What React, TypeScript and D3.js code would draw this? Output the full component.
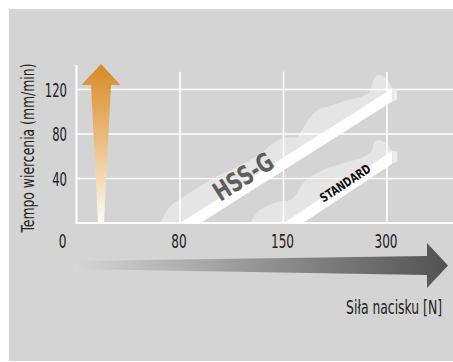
import React, { useLayoutEffect, useRef } from "react";
import * as d3 from "d3";

// ---- data ----
const forceLabels = ["0", "80", "150", "300"]; // x categories (index 0..3)
const rateTicks = [40, 80, 120];

// bands: [force index, rate] start (on baseline) and end of upper edge
const hssBand: [number, number][] = [[1, 0], [3.05, 121]];
const stdBand: [number, number][] = [[2, 0], [3.05, 65]];

// lighter "cloud" envelopes above each band
const hssGhost: [number, number][] = [
  [0.81, 0], [0.9, 14.4], [1.03, 23.4], [1.29, 38.7], [1.55, 50.3], [1.8, 63.8],
  [1.9, 71.9], [2.0, 76.4], [2.13, 77.3], [2.19, 85.4], [2.26, 95.3], [2.33, 101.6],
  [2.45, 105.2], [2.59, 109.7], [2.74, 113.3], [2.83, 117.8], [2.87, 128.5],
  [2.91, 133.0], [2.98, 131.2], [3.03, 124.9], [3.05, 121],
];
const stdGhost: [number, number][] = [
  [1.68, 0], [1.77, 11.7], [1.94, 18.9], [2.06, 20.7], [2.13, 27.0], [2.19, 36.0],
  [2.26, 41.3], [2.38, 47.6], [2.58, 53.9], [2.77, 59.3], [2.85, 64.7], [2.88, 72.8],
  [2.93, 74.6], [3.0, 71.0], [3.04, 66], [3.05, 65],
];

const W = 453;
const H = 362;
const FONT = "'Liberation Sans Narrow', 'DejaVu Sans Condensed', 'Liberation Sans', sans-serif";

type FitProps = {
  x: number;
  y: number;
  width: number;
  rotate?: number;
  anchor?: "start" | "middle" | "end";
  baseline?: string;
  size: number;
  weight?: string;
  fill: string;
  children: string;
};

// text squeezed horizontally to a measured width
function FitText({ x, y, width, rotate = 0, anchor = "start", baseline, size, weight, fill, children }: FitProps) {
  const ref = useRef<SVGTextElement>(null);
  useLayoutEffect(() => {
    const el = ref.current;
    if (!el) return;
    const len = el.getComputedTextLength();
    if (len > 0) el.setAttribute("transform", `scale(${width / len},1)`);
  });
  return (
    <g transform={`translate(${x},${y}) rotate(${rotate})`}>
      <text
        ref={ref}
        textAnchor={anchor}
        dominantBaseline={baseline}
        fontSize={size}
        fontWeight={weight}
        fill={fill}
      >
        {children}
      </text>
    </g>
  );
}

export default function App() {
  const x = d3.scaleLinear().domain([0, 3]).range([76.5, 387]);
  const y = d3.scaleLinear().domain([0, 120]).range([223, 89.5]);
  const left = x(0);
  const base = y(0);
  const T = 13; // band vertical thickness

  const ghostLine = d3
    .line<[number, number]>()
    .x((d) => x(d[0]))
    .y((d) => y(d[1]))
    .curve(d3.curveCatmullRom.alpha(0.5));

  const band = (b: [number, number][]) => {
    const x0 = x(b[0][0]), y0 = y(b[0][1]);
    const x1 = x(b[1][0]), y1 = y(b[1][1]);
    const slope = (y0 - y1) / (x1 - x0);
    const main = `M${x0},${y0}L${x1},${y1}L${x1},${y1 + T}L${x0 + T / slope},${y0}Z`;
    const face = `M${x1},${y1}L${x1 + 5},${y1 + 1}L${x1 + 5},${y1 + T - 2}L${x1},${y1 + T}Z`;
    const angle = (Math.atan2(y1 - y0, x1 - x0) * 180) / Math.PI;
    return { main, face, angle, x0, y0, slope };
  };
  const hb = band(hssBand);
  const sb = band(stdBand);

  const ghostPath = (g: [number, number][], b: [number, number][]) =>
    (ghostLine(g) || "") + `L${x(b[0][0])},${y(b[0][1])}Z`;

  // text anchor points along band upper edge
  const hssTx = x(1.62);
  const hssTy = base - hb.slope * (hssTx - hb.x0) - 4;
  const stdTx = x(2.6);
  const stdTy = base - sb.slope * (stdTx - sb.x0) + 2;

  return (
    <svg
      width={W}
      height={H}
      style={{ position: "absolute", left: 0, top: 0, display: "block" }}
      fontFamily={FONT}
    >
      <defs>
        <linearGradient id="orangeGrad" x1="0" y1="0" x2="0" y2="1">
          <stop offset="0" stopColor="#d88a28" />
          <stop offset="0.45" stopColor="#e9ba7a" />
          <stop offset="1" stopColor="#fefcf8" />
        </linearGradient>
        <linearGradient id="grayGrad" gradientUnits="userSpaceOnUse" x1="74" y1="0" x2="440" y2="0">
          <stop offset="0" stopColor="#d6d6d6" />
          <stop offset="1" stopColor="#545454" />
        </linearGradient>
      </defs>
      <rect x={0} y={0} width={W} height={H} fill="#ffffff" />
      <rect x={9} y={9} width={W - 9} height={H - 10} fill="#d4d4d4" />

      {/* ghosts */}
      <path d={ghostPath(hssGhost, hssBand)} fill="#e5e5e5" />
      <path d={ghostPath(stdGhost, stdBand)} fill="#e5e5e5" />

      {/* grid */}
      {rateTicks.map((t) => (
        <line key={"h" + t} x1={left} x2={W} y1={y(t)} y2={y(t)} stroke="#fff" strokeWidth={1.6} />
      ))}
      {forceLabels.slice(1).map((_, i) => (
        <line key={"v" + i} x1={x(i + 1)} x2={x(i + 1)} y1={y(136)} y2={base} stroke="#fff" strokeWidth={1.6} />
      ))}
      <line x1={left} x2={left} y1={y(142)} y2={base + 1} stroke="#fff" strokeWidth={2} />
      <line x1={left - 1} x2={W} y1={base} y2={base} stroke="#fff" strokeWidth={2} />

      {/* bands */}
      <path d={hb.main} fill="#ffffff" />
      <path d={hb.face} fill="#ececec" />
      <path d={sb.main} fill="#ffffff" />
      <path d={sb.face} fill="#ececec" />

      <FitText x={hssTx} y={hssTy} rotate={hb.angle} anchor="middle" baseline="middle" size={26} weight="bold" fill="#5e5e5e" width={66}>
        HSS-G
      </FitText>
      <FitText x={stdTx} y={stdTy} rotate={sb.angle} anchor="middle" baseline="middle" size={12.5} weight="bold" fill="#111" width={58}>
        STANDARD
      </FitText>

      {/* orange vertical arrow */}
      <path
        d={`M101,64L120.5,85L111,85L104,${base}L98,${base}L91,85L81.5,85Z`}
        fill="url(#orangeGrad)"
      />

      {/* gray horizontal arrow */}
      <path d="M74,261L427,256L427,243L448,265.5L427,288L427,275L74,269Z" fill="url(#grayGrad)" />

      {/* y tick labels */}
      {rateTicks.map((t) => (
        <FitText key={"yl" + t} x={67} y={y(t)} anchor="end" baseline="central" size={20} fill="#222" width={String(t).length * 7.4}>
          {String(t)}
        </FitText>
      ))}

      {/* x tick labels */}
      {forceLabels.map((l, i) => (
        <FitText
          key={"xl" + l}
          x={i === 0 ? x(0) - 10 : x(i) - 1}
          y={247.5}
          anchor={i === 0 ? "end" : "middle"}
          size={20}
          fill="#222"
          width={l.length * 7.7}
        >
          {l}
        </FitText>
      ))}

      {/* axis titles */}
      <FitText x={34} y={148} rotate={-90} anchor="middle" size={17} fill="#222" width={169}>
        Tempo wiercenia (mm/min)
      </FitText>
      <FitText x={442} y={314} anchor="end" size={19} fill="#222" width={96}>
        Siła nacisku [N]
      </FitText>
    </svg>
  );
}
